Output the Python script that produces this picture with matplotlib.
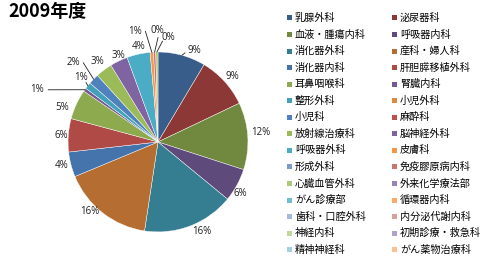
import matplotlib
matplotlib.use("Agg")
import matplotlib.pyplot as plt
import numpy as np
from matplotlib.patches import Rectangle

plt.rcParams['font.family'] = ['Noto Sans CJK JP', 'DejaVu Sans']

title = "2009年度"
departments = [
    "乳腺外科", "泌尿器科", "血液・腫瘍内科", "呼吸器内科", "消化器外科", "産科・婦人科",
    "消化器内科", "肝胆膵移植外科", "耳鼻咽喉科", "腎臓内科", "整形外科", "小児外科",
    "小児科", "麻酔科", "放射線治療科", "脳神経外科", "呼吸器外科", "皮膚科",
    "形成外科", "免疫膠原病内科", "心臓血管外科", "外来化学療法部", "がん診療部", "循環器内科",
    "歯科・口腔外科", "内分泌代謝内科", "神経内科", "初期診療・救急科", "精神神経科", "がん薬物治療科",
]
shares = [
    8.6, 9.4, 12.1, 6.0, 16.5, 16.4,
    4.5, 6.0, 5.4, 0.6, 1.2, 0.0,
    1.9, 0.0, 3.0, 3.2, 4.2, 0.6,
    0.0, 0.4, 0.4, 0.0, 0.0, 0.0,
    0.0, 0.0, 0.0, 0.0, 0.0, 0.0,
]
colors = [
    "#385D8A", "#8C3836", "#71893F", "#5E4A7B", "#357D91", "#B66D31",
    "#4573AB", "#B04A47", "#8DAA4F", "#735A93", "#42A0B8", "#E0883F",
    "#4F81BD", "#C0504D", "#9BBB59", "#8064A2", "#4BACC6", "#F79646",
    "#7E9CCB", "#CD7371", "#AFC97A", "#9983B5", "#6FBDD1", "#F9AB6B",
    "#A7B9DA", "#DAA0A0", "#C3D69B", "#B3A2C7", "#A5D1DE", "#FAC090",
]

# label text positions (data coords of the pie axes, radius 1) for non-zero slices
label_pos = {
    0: (0.40, 1.02), 1: (0.83, 0.73), 2: (1.14, 0.11), 3: (0.91, -0.57),
    4: (0.49, -1.00), 5: (-0.76, -0.77), 6: (-1.07, -0.26), 7: (-1.07, 0.07),
    8: (-1.07, 0.38), 9: (-1.34, 0.58), 10: (-0.86, 0.72), 12: (-0.94, 0.88),
    14: (-0.67, 0.89), 15: (-0.44, 0.96), 16: (-0.22, 1.06), 17: (-0.26, 1.23),
    19: (-0.01, 1.24), 20: (0.11, 1.16),
}
leaders = {0: (0.30, 0.99), 9: (-1.22, 0.58), 12: (-0.83, 0.88), 17: (-0.14, 1.23),
           19: (0.0, 1.16), 20: (0.05, 1.12), 10: (-0.80, 0.66)}

fig = plt.figure(figsize=(5.0, 2.6), dpi=100)
fig.patch.set_facecolor("white")
ax = fig.add_axes([0.136, 0.108, 0.36, 0.692])

wedges, _ = ax.pie(shares, colors=colors, startangle=90, counterclock=False,
                   wedgeprops=dict(edgecolor="white", linewidth=0.3), radius=1.0)
for w, v in zip(wedges, shares):
    if v == 0:
        w.set_visible(False)
ax.set_xlim(-1, 1)
ax.set_ylim(-1, 1)
ax.set_aspect("equal")
ax.axis("off")

total = sum(shares)
for i, (w, v) in enumerate(zip(wedges, shares)):
    if v == 0 or i not in label_pos:
        continue
    txt = f"{round(v / total * 100):.0f}%"
    tx, ty = label_pos[i]
    ax.text(tx, ty, txt, ha="center", va="center", fontsize=7, color="#202020",
            family=["Open Sans", "DejaVu Sans"], clip_on=False)
    if i in leaders:
        mid = np.deg2rad((w.theta1 + w.theta2) / 2)
        ex, ey = np.cos(mid), np.sin(mid)
        sx, sy = leaders[i]
        ax.plot([sx, ex], [sy, ey], color="#202020", lw=0.6, clip_on=False)

fig.text(0.016, 0.955, title, fontsize=13, fontweight="bold", ha="left", va="center")

# legend (row-major, two columns)
x0, dx = 0.574, 0.21
y0, dy = 1 - 18 / 260, 16.55 / 260
sq_w, sq_h = 5 / 500, 5 / 260
for i, (name, c) in enumerate(zip(departments, colors)):
    r, col = divmod(i, 2)
    x = x0 + col * dx
    y = y0 - r * dy
    fig.add_artist(Rectangle((x, y - sq_h / 2), sq_w, sq_h, transform=fig.transFigure,
                             facecolor=c, edgecolor="none"))
    fig.text(x + 0.016, y, name, fontsize=7.3, ha="left", va="center", color="#000000")

fig.savefig("out.png", dpi=100)
